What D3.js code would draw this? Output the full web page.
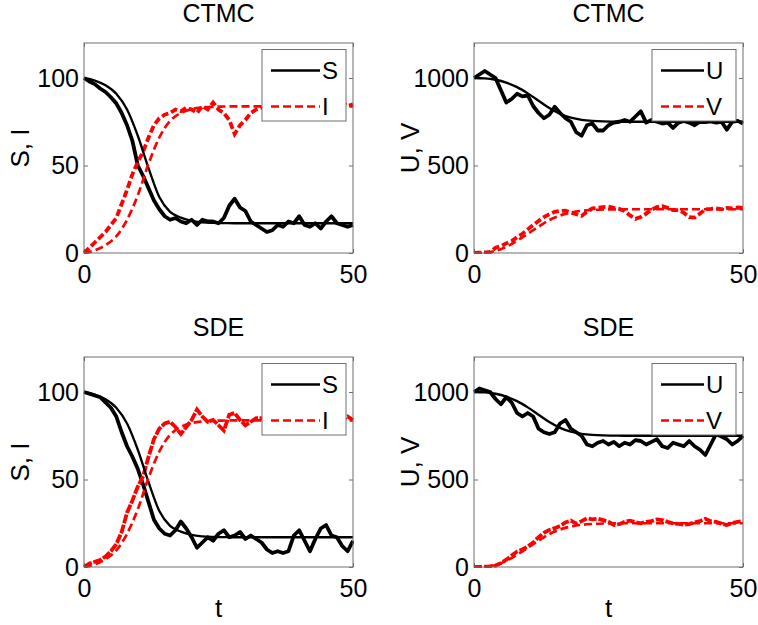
<!DOCTYPE html>
<html>
<head>
<meta charset="utf-8">
<script src="https://cdn.jsdelivr.net/npm/d3@7"></script>
<style>
	body{margin:0;background:#fff;}
	svg{display:block;font-family:"Liberation Sans",Arial,Helvetica,sans-serif;}
</style>
</head>
<body>
<div id="container"></div>
<script>
// time grids
var tStoch = d3.range(0, 51, 1);
var tDet = d3.range(0, 52, 2);

// deterministic (ODE) solutions, t = 0,2,...,50
var S_det = [100,98.5,95.8,91,82,67,48.5,32,23.5,20.2,18.3,17.5,17.2,17.1,17,17,17,17,17,17,17,17,17,17,17,17];
var I_det = [0,1.5,4.5,9.5,19,33,51,66,75.5,80,82.2,83.1,83.5,83.7,83.8,83.8,83.8,83.8,83.8,83.8,83.8,83.8,83.8,83.8,83.8,83.8];
var U_det = [1000,998,990,974,948,912,870,828,795,773,761,755,752,751,750,750,750,750,750,750,750,750,750,750,750,750];
var V_det = [0,2,12,35,70,110,150,188,214,231,241,246,248.5,249.5,250,250,250,250,250,250,250,250,250,250,250,250];

// CTMC sample paths, t = 0..50
var S_ctmc = [100,98,96.5,94,92,89,85.5,80,73,64,50,44,37,30,25,21,19,20,18,17,19,16,19,18,18,17,20,27,31,26,24,18,16,14,12,13,16,15,18,17,21,16,15,17,14,18,21,17,16,15,16];
var I_ctmc = [0,3,6,9,12,16,20,28,36,45,52,58,66,73,77,79,80,82,81,83,82,80,84,82,86,82,80,76,68,73,76,80,82,83,84,83,85,84,82,84,83,85,84,82,84,85,83,84,86,84,85];
var U_ctmc = [1000,1020,1040,1020,1000,930,860,880,910,895,900,840,800,770,790,835,800,770,750,690,670,730,740,700,700,730,745,750,760,750,780,810,745,760,750,740,745,715,745,755,745,730,750,748,752,745,750,705,750,755,740];
var V_ctmc = [0,2,3,5,30,40,55,68,90,110,135,160,183,205,221,235,240,242,232,222,212,235,255,258,262,265,258,252,240,215,195,205,225,248,262,268,258,245,245,230,205,202,225,250,252,255,250,258,255,260,258];

// SDE sample paths, t = 0..50
var S_sde = [100,99,98,97,94,91,86,77,69,63,56,47,37,27,22,19,18,21,26,22,17,11,14,17,15,19,21,17,18,20,16,18,16,14,10,8,9,8,9,18,21,15,9,16,22,24,18,17,12,9,15];
var I_sde = [0,2,3,4,6,9,13,20,31,38,46,52,63,73,79,82,83,80,76,80,84,90,86,83,84,81,78,87,88,84,81,83,85,85,84,86,83,85,84,86,83,85,84,82,85,84,86,83,84,86,84];
var U_sde = [1000,1020,1010,1000,960,930,970,940,880,860,880,860,790,770,760,770,820,840,790,770,750,700,690,710,720,700,715,690,710,700,725,720,700,715,730,690,680,710,700,690,720,690,670,640,700,760,745,730,700,720,750];
var V_sde = [0,0,2,3,8,22,42,65,88,100,118,140,170,195,212,222,235,255,265,248,262,278,272,276,268,258,240,245,258,265,256,250,258,262,272,268,258,250,246,242,245,255,262,275,262,258,248,240,252,258,262];

var titles = ['CTMC','CTMC','SDE','SDE'];
var yLabels = ['S, I','U, V','S, I','U, V'];
var legendNames = [['S','I'],['U','V'],['S','I'],['U','V']];
var yTicksSI = [0,50,100];
var yTicksUV = [0,500,1000];
var xTicks = [0,50];

var W = 758, H = 625;
var pw = 269, ph = 210;
var lefts = [84, 474], tops = [43, 357];

var panels = [
	{col:0,row:0,ymax:120,yt:yTicksSI,det:[S_det,I_det],sto:[S_ctmc,I_ctmc],legL:49,dash:'7,3'},
	{col:1,row:0,ymax:1200,yt:yTicksUV,det:[U_det,V_det],sto:[U_ctmc,V_ctmc],legL:43,dash:'7,3'},
	{col:0,row:1,ymax:120,yt:yTicksSI,det:[S_det,I_det],sto:[S_sde,I_sde],legL:49,dash:'9,1.5'},
	{col:1,row:1,ymax:1200,yt:yTicksUV,det:[U_det,V_det],sto:[U_sde,V_sde],legL:43,dash:'8,2'}
];

var svg = d3.select('#container').append('svg')
	.attr('width',W).attr('height',H);

var frameCol = '#6e6e6e';
var fnt = '"Liberation Sans",Arial,sans-serif';

panels.forEach(function(p,i){
	var x0 = lefts[p.col], y0 = tops[p.row];
	var g = svg.append('g').attr('transform','translate(' +x0 +',' +y0 +')');

	var x = d3.scaleLinear().domain([0,50]).range([0,pw]);
	var y = d3.scaleLinear().domain([0,p.ymax]).range([ph,0]);

	g.append('clipPath').attr('id','clip'+i)
		.append('rect').attr('x',-1).attr('y',-1).attr('width',pw+2).attr('height',ph+2);

	//axes with inward ticks, labels on left/bottom
	var axL = g.append('g').call(d3.axisLeft(y).tickValues(p.yt).tickSize(-4).tickPadding(5).tickFormat(d3.format('d')));
	var axR = g.append('g').attr('transform','translate(' +pw +',0)')
		.call(d3.axisRight(y).tickValues(p.yt).tickSize(-4).tickFormat(''));
	var axB = g.append('g').attr('transform','translate(0,' +ph +')')
		.call(d3.axisBottom(x).tickValues(xTicks).tickSize(-4).tickPadding(12));
	var axT = g.append('g').call(d3.axisTop(x).tickValues(xTicks).tickSize(-4).tickFormat(''));
	[axL,axR,axB,axT].forEach(function(a){
		a.select('.domain').remove();
		a.selectAll('line').attr('stroke',frameCol);
		a.selectAll('text').attr('fill','#000').style('font-size','25px').style('font-family',fnt);
	});
	axB.selectAll('text').attr('dy','0.71em');

	var plot = g.append('g').attr('clip-path','url(#clip' +i +')');

	var lineSto = d3.line()
		.x(function(d,j){ return x(tStoch[j]); })
		.y(function(d){ return y(d); });
	var lineDet = d3.line()
		.x(function(d,j){ return x(tDet[j]); })
		.y(function(d){ return y(d); })
		.curve(d3.curveMonotoneX);

	//sample paths
	plot.append('path').datum(p.sto[0]).attr('d',lineSto)
		.attr('fill','none').attr('stroke','#000').attr('stroke-width',3.8)
		.attr('stroke-linejoin','round');
	plot.append('path').datum(p.sto[1]).attr('d',lineSto)
		.attr('fill','none').attr('stroke','#ff0000').attr('stroke-width',3.8)
		.attr('stroke-dasharray',p.dash);

	//deterministic
	plot.append('path').datum(p.det[0]).attr('d',lineDet)
		.attr('fill','none').attr('stroke','#000').attr('stroke-width',2.3);
	plot.append('path').datum(p.det[1]).attr('d',lineDet)
		.attr('fill','none').attr('stroke','#ff0000').attr('stroke-width',2.7)
		.attr('stroke-dasharray','8,4');

	//frame
	g.append('rect').attr('width',pw).attr('height',ph)
		.attr('fill','none').attr('stroke',frameCol).attr('stroke-width',1);

	//title
	g.append('text').attr('x',pw/2).attr('y',-21)
		.attr('text-anchor','middle').style('font-size','25px').text(titles[i]);

	//y label
	g.append('text')
		.attr('transform','translate(-55,' +(ph/2) +')rotate(-90)')
		.attr('text-anchor','middle').style('font-size','26px').text(yLabels[i]);

	//x label only for bottom row
	if(p.row === 1){
		g.append('text').attr('x',pw/2).attr('y',ph +50)
			.attr('text-anchor','middle').style('font-size','26px').text('t');
	}

	//legend
	var lg = g.append('g').attr('transform','translate(' +(pw -91) +',6.5)');
	lg.append('rect').attr('width',84).attr('height',71.5)
		.attr('fill','#fff').attr('stroke',frameCol).attr('stroke-width',1);
	lg.append('line').attr('x1',9).attr('x2',9 +p.legL).attr('y1',21).attr('y2',21)
		.attr('stroke','#000').attr('stroke-width',2.4);
	lg.append('line').attr('x1',9).attr('x2',9 +p.legL).attr('y1',57).attr('y2',57)
		.attr('stroke','#ff0000').attr('stroke-width',2.6).attr('stroke-dasharray','8,4');
	lg.append('text').attr('x',11 +p.legL).attr('y',21).attr('dy','0.36em')
		.style('font-size','24px').text(legendNames[i][0]);
	lg.append('text').attr('x',11 +p.legL).attr('y',57).attr('dy','0.36em')
		.style('font-size','24px').text(legendNames[i][1]);
});
</script>
</body>
</html>
